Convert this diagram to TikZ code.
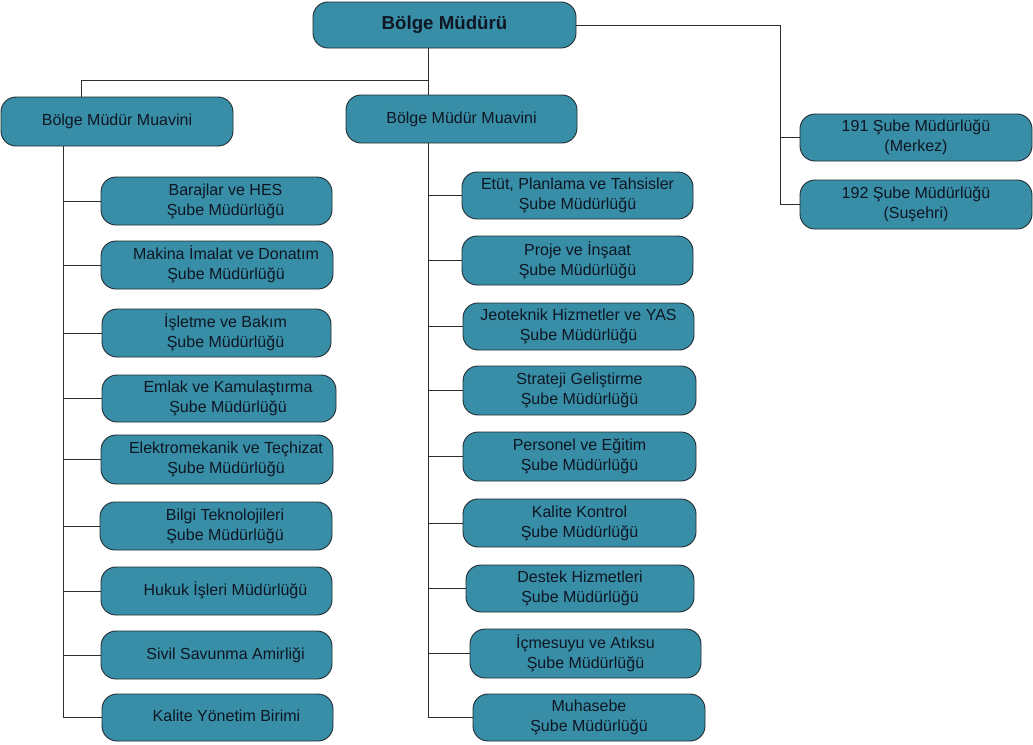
\documentclass[tikz,border=0pt]{standalone}
\usepackage{fontspec}
\setmainfont{Liberation Sans}
\definecolor{boxfill}{RGB}{55,142,166}
\definecolor{boxdraw}{RGB}{35,45,50}
\definecolor{txt}{RGB}{15,22,35}
\definecolor{linec}{RGB}{45,45,45}
\newcommand{\ltxt}[1]{\begin{tabular}{@{\hspace{18pt}}c@{}}#1\end{tabular}}
\begin{document}
\begin{tikzpicture}[x=1pt,y=-1pt,
  box/.style={draw=boxdraw,line width=0.9pt,fill=boxfill,rounded corners=15pt,
    align=center,text=txt,inner sep=2pt,
    font=\fontsize{16}{20}\selectfont},
  conn/.style={draw=linec,line width=0.9pt}]
\useasboundingbox[fill=white] (0,0) rectangle (1033,744);
% top
\node[box,minimum width=263pt,minimum height=46pt,font=\fontsize{18.7}{21}\selectfont\bfseries] (bm) at (444.5,25) {Bölge Müdürü};
\node[box,minimum width=232pt,minimum height=49pt] (bmml) at (117,121.5) {Bölge Müdür Muavini};
\node[box,minimum width=231pt,minimum height=48pt] (bmmr) at (461.5,119) {Bölge Müdür Muavini};
\node[box,minimum width=232pt,minimum height=47pt] (s191) at (916,137.5) {191 Şube Müdürlüğü\\(Merkez)};
\node[box,minimum width=232pt,minimum height=49pt] (s192) at (916,204.5) {192 Şube Müdürlüğü\\(Suşehri)};
% left column
\node[box,minimum width=231pt,minimum height=48pt] (l1) at (216.5,201) {\ltxt{Barajlar ve HES\\Şube Müdürlüğü}};
\node[box,minimum width=232pt,minimum height=48pt] (l2) at (217,265) {\ltxt{Makina İmalat ve Donatım\\Şube Müdürlüğü}};
\node[box,minimum width=229pt,minimum height=48pt] (l3) at (216.5,333) {\ltxt{İşletme ve Bakım\\Şube Müdürlüğü}};
\node[box,minimum width=234pt,minimum height=47pt] (l4) at (219,398.5) {\ltxt{Emlak ve Kamulaştırma\\Şube Müdürlüğü}};
\node[box,minimum width=232pt,minimum height=49pt] (l5) at (217,459.5) {\ltxt{Elektromekanik ve Teçhizat\\Şube Müdürlüğü}};
\node[box,minimum width=232pt,minimum height=48pt] (l6) at (216,526) {\ltxt{Bilgi Teknolojileri\\Şube Müdürlüğü}};
\node[box,minimum width=231pt,minimum height=48pt] (l7) at (216.5,591) {\ltxt{Hukuk İşleri Müdürlüğü}};
\node[box,minimum width=231pt,minimum height=48pt] (l8) at (216.5,655) {\ltxt{Sivil Savunma Amirliği}};
\node[box,minimum width=231pt,minimum height=47pt] (l9) at (217.5,717.5) {\ltxt{Kalite Yönetim Birimi}};
% right column
\node[box,minimum width=231pt,minimum height=47pt] (r1) at (577.5,195.5) {Etüt, Planlama ve Tahsisler\\Şube Müdürlüğü};
\node[box,minimum width=231pt,minimum height=49pt] (r2) at (577.5,260.5) {Proje ve İnşaat\\Şube Müdürlüğü};
\node[box,minimum width=231pt,minimum height=47pt] (r3) at (578.5,326.5) {Jeoteknik Hizmetler ve YAS\\Şube Müdürlüğü};
\node[box,minimum width=233pt,minimum height=49pt] (r4) at (579.5,390.5) {Strateji Geliştirme\\Şube Müdürlüğü};
\node[box,minimum width=233pt,minimum height=49pt] (r5) at (579.5,456.5) {Personel ve Eğitim\\Şube Müdürlüğü};
\node[box,minimum width=233pt,minimum height=48pt] (r6) at (579.5,523) {Kalite Kontrol\\Şube Müdürlüğü};
\node[box,minimum width=228pt,minimum height=47pt] (r7) at (580,588.5) {Destek Hizmetleri\\Şube Müdürlüğü};
\node[box,minimum width=231pt,minimum height=49pt] (r8) at (585.5,653.5) {İçmesuyu ve Atıksu\\Şube Müdürlüğü};
\node[box,minimum width=232pt,minimum height=47pt] (r9) at (589,717.5) {Muhasebe\\Şube Müdürlüğü};
% trunk coordinates
\coordinate (lt) at (63,0);
\coordinate (rt) at (428,0);
\coordinate (st) at (780,0);
\coordinate (la) at (81,80);
% connectors
\draw[conn] (bm.south -| rt) -- (bmmr.north -| rt);
\draw[conn] (la) -- (la -| rt);
\draw[conn] (la) -- (bmml.north -| la);
\draw[conn] (bm.east) -- (st |- bm.east) -- (st |- s192.west) -- (s192.west);
\draw[conn] (st |- s191.west) -- (s191.west);
\draw[conn] (bmml.south -| lt) -- (lt |- l9.west);
\foreach \n in {l1,l2,l3,l4,l5,l6,l7,l8,l9}
  \draw[conn] (lt |- \n.west) -- (\n.west);
\draw[conn] (bmmr.south -| rt) -- (rt |- r9.west);
\foreach \n in {r1,r2,r3,r4,r5,r6,r7,r8,r9}
  \draw[conn] (rt |- \n.west) -- (\n.west);
\end{tikzpicture}
\end{document}
